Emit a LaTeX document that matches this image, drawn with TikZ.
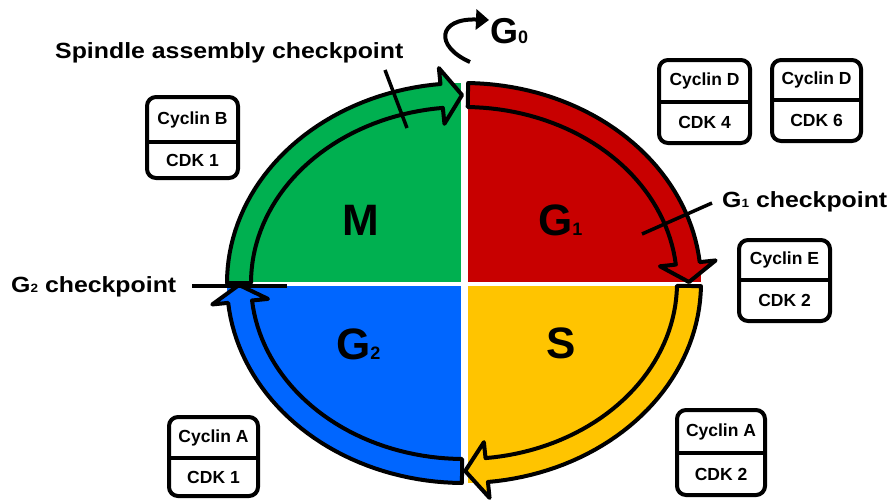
\documentclass[tikz,border=0pt]{standalone}
\usepackage{fontspec}
\setmainfont{Liberation Sans}
\usetikzlibrary{arrows.meta,calc}
\definecolor{mgreen}{RGB}{0,176,80}
\definecolor{mred}{RGB}{200,0,0}
\definecolor{myellow}{RGB}{255,196,0}
\definecolor{mblue}{RGB}{0,102,255}
\tikzset{
  bandstyle/.style={draw=black, line width=4pt, line join=round},
  ckframe/.style={draw=black, line width=4pt, rounded corners=9pt, inner sep=0pt, outer sep=0pt, fill=white},
  ckline/.style={draw=black, line width=4pt},
  cktext/.style={font=\bfseries\fontsize{17.5}{18}\selectfont, inner sep=0pt},
  ckmark/.style={draw=black, line width=3.5pt},
  biglabel/.style={font=\bfseries\fontsize{44}{44}\selectfont, inner sep=0pt},
  g0label/.style={font=\bfseries\fontsize{36}{36}\selectfont, inner sep=0pt},
  cklabel/.style={font=\bfseries\fontsize{22}{22}\selectfont, inner sep=0pt, xscale=1.13, transform shape},
  gap/.style={draw=white, line width=7pt},
  hgap/.style={draw=white, line width=4pt},
}
% quadrant fill
\newcommand\quadfill[3]{%
  \fill[#1] (C) -- plot[domain=#2:#3, samples=40] ({464+237*cos(\x)},{283+200*sin(\x)}) -- cycle;}
% arrow band: name, colour, start, head base, tip
\newcommand\cyclearrow[5]{%
  \filldraw[bandstyle, fill=#2] plot[domain=#3:#4, samples=40] ({464+237*cos(\x)},{283+200*sin(\x)})
    -- ({464+253*cos(#4)},{283+216*sin(#4)})
    -- ({464+225*cos(#5)},{283+188*sin(#5)}) coordinate (#1)
    -- ({464+197*cos(#4)},{283+160*sin(#4)})
    -- plot[domain=#4:#3, samples=40] ({464+213*cos(\x)},{283+176*sin(\x)}) -- cycle;}
% cyclin box: name, cx, cy, w, h, divider y, top, bottom
\newcommand\ckbox[8]{%
  \node[ckframe, minimum width=#4pt, minimum height=#5pt] (#1) at (#2,#3) {};
  \coordinate (#1d) at (0,#6);
  \draw[ckline] (#1.west |- #1d) -- (#1.east |- #1d);
  \node[cktext] (#1top) at ({#2},{(#3-#5/2+#6)/2}) {#7};
  \node[cktext] (#1bot) at ({#2},{(#3+#5/2+#6)/2}) {#8};}
\begin{document}
\begin{tikzpicture}[x=1pt, y=-1pt]
\useasboundingbox (0,0) rectangle (890,499);
\coordinate (C) at (464,283);
% quadrants
\quadfill{mgreen}{180}{270}
\quadfill{mred}{270}{360}
\quadfill{myellow}{0}{90}
\quadfill{mblue}{90}{180}
% white gaps
\coordinate (vt) at (464,82);
\coordinate (vb) at (464,484);
\coordinate (hl) at (227,284);
\coordinate (hr) at (701,284);
\draw[gap] (vt) -- (vb);
\draw[hgap] (hl) -- (hr);
% arrows
\cyclearrow{tipM}{mgreen}{180}{264.3}{269.5}
\cyclearrow{tipG1}{mred}{271}{354}{359.7}
\cyclearrow{tipS}{myellow}{0.9}{84.2}{89.7}
\cyclearrow{tipG2}{mblue}{90.5}{174.3}{179.4}
% quadrant labels
\node[biglabel, anchor=base west] (lM) at (342,235) {M};
\node[biglabel, anchor=base west] (lG1) at (538,235) {G{\fontsize{18}{18}\selectfont 1}};
\node[biglabel, anchor=base west] (lG2) at (336,359) {G{\fontsize{18}{18}\selectfont 2}};
\node[biglabel, anchor=base west] (lS) at (546,358) {S};
% G0
\node[g0label, anchor=base west] (lG0) at (490,43) {G{\fontsize{18}{18}\selectfont 0}};
\coordinate (g0s) at (470,62);
\coordinate (g0e) at (489,20);
\draw[line width=4pt, -{Triangle[length=13pt,width=20pt]}] (g0s) .. controls (434,46) and (438,18) .. (g0e);
% checkpoints
\node[cklabel, anchor=base west] (tsp) at (55,58) {Spindle assembly checkpoint};
\node[cklabel, anchor=base west] (tg1) at (722,207) {G{\fontsize{12}{12}\selectfont 1} checkpoint};
\node[cklabel, anchor=base west] (tg2) at (11,292) {G{\fontsize{12}{12}\selectfont 2} checkpoint};
\coordinate (sp1) at (385,70);
\coordinate (sp2) at (407,128);
\draw[ckmark] (sp1) -- (sp2);
\coordinate (c11) at (642,234);
\coordinate (c12) at (712,203);
\draw[ckmark] (c11) -- (c12);
\coordinate (c21) at (192,286);
\coordinate (c22) at (287,286);
\draw[ckmark] (c21) -- (c22);
% cyclin boxes
\ckbox{bB}{192.5}{137.5}{91}{81}{142}{Cyclin B}{CDK 1}
\ckbox{bD4}{704.5}{101.5}{91}{83}{102}{Cyclin D}{CDK 4}
\ckbox{bD6}{816.5}{100.5}{89}{81}{100}{Cyclin D}{CDK 6}
\ckbox{bE}{784.5}{280.5}{91}{81}{280}{Cyclin E}{CDK 2}
\ckbox{bA1}{213.5}{456.5}{89}{79}{458}{Cyclin A}{CDK 1}
\ckbox{bA2}{721}{452.5}{88}{85}{453}{Cyclin A}{CDK 2}
\end{tikzpicture}
\end{document}
